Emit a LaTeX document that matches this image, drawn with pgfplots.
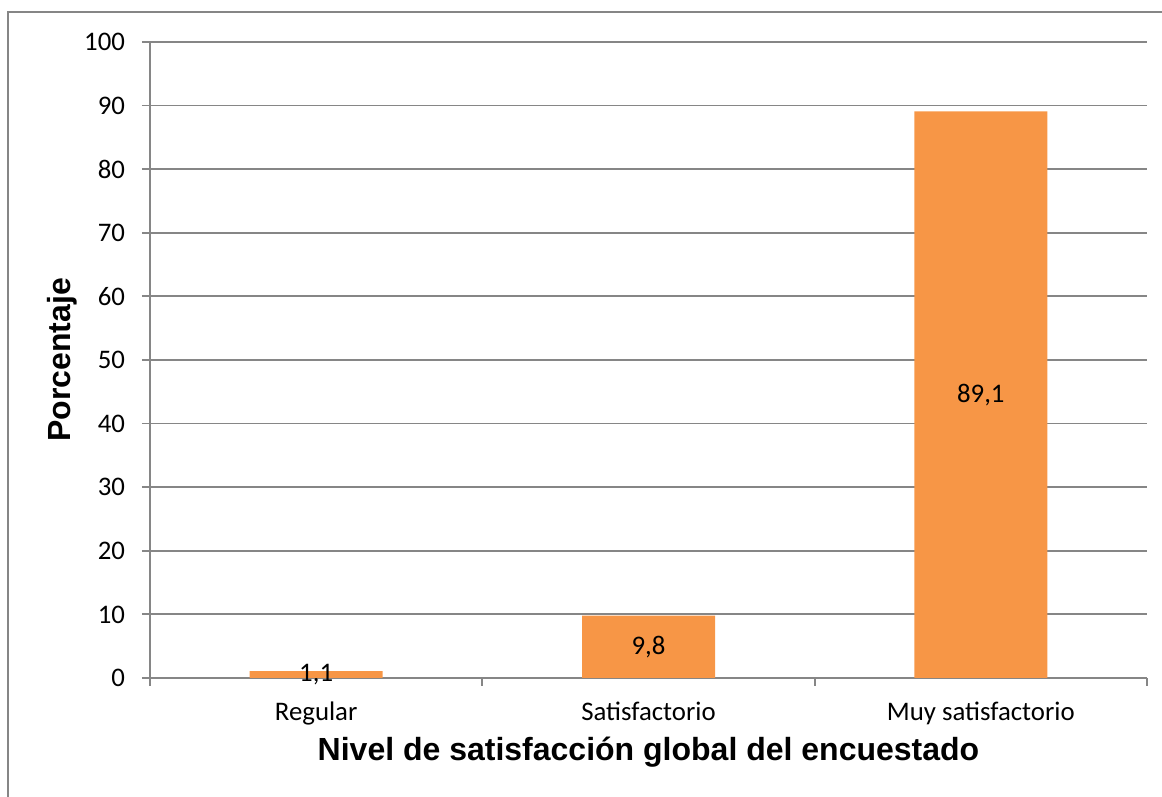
\documentclass[border=0pt]{standalone}
\usepackage{pgfplots}
\pgfplotsset{compat=1.18}
\usepackage{fontspec}
\setmainfont{Carlito}
\newfontfamily\arialfont{Liberation Sans}
\definecolor{gridgray}{RGB}{134,134,134}
\definecolor{barorange}{RGB}{247,150,70}

\begin{document}
\begin{tikzpicture}
\useasboundingbox (0,0) rectangle (581pt,398.5pt);
% outer chart frame
\draw[gridgray, line width=0.9pt] (4pt,0) -- (4pt,392.5pt) -- (581pt,392.5pt);
\begin{axis}[
  at={(75pt,59.5pt)}, anchor=south west,
  width=498.5pt, height=318pt, scale only axis,
  xmin=-0.5, xmax=2.5, ymin=0, ymax=100,
  axis lines*=left,
  axis line style={draw=gridgray, line width=0.9pt},
  ytick={0,10,...,100},
  xtick={0,1,2},
  xticklabels={Regular, Satisfactorio, Muy satisfactorio},
  minor xtick={-0.5,0.5,1.5,2.5},
  major x tick style={draw=none},
  tick align=outside,
  major tick length=4pt, minor tick length=4pt,
  tick style={draw=gridgray, line width=0.9pt},
  ymajorgrids,
  grid style={draw=gridgray, line width=0.9pt},
  /pgf/number format/assume math mode=true,
  tick label style={font=\fontsize{13.4}{16}\selectfont},
  yticklabel style={xshift=-5pt},
  xticklabel style={yshift=-4.6pt},
  xlabel={\arialfont\bfseries Nivel de satisfacción global del encuestado},
  ylabel={\arialfont\bfseries Porcentaje},
  label style={font=\fontsize{16}{19}\selectfont},
  xlabel style={at={(axis description cs:0.5,-0.1164)}, anchor=center},
  ylabel style={at={(axis description cs:-0.0883,0.5)}, anchor=center},
  ybar, bar width=66.5pt,
  nodes near coords={\pgfmathprintnumber[use comma, fixed, precision=1, fixed zerofill, assume math mode=true]{\pgfplotspointmeta}},
  visualization depends on={rawy \as \rawy},
  every node near coord/.append style={anchor=center, yshift={-1.59pt*\rawy},
    font=\fontsize{13.4}{16}\selectfont, text=black},
]
\addplot[fill=barorange, draw=none] coordinates {(0,1.1) (1,9.8) (2,89.1)};
\end{axis}
\end{tikzpicture}
\end{document}
